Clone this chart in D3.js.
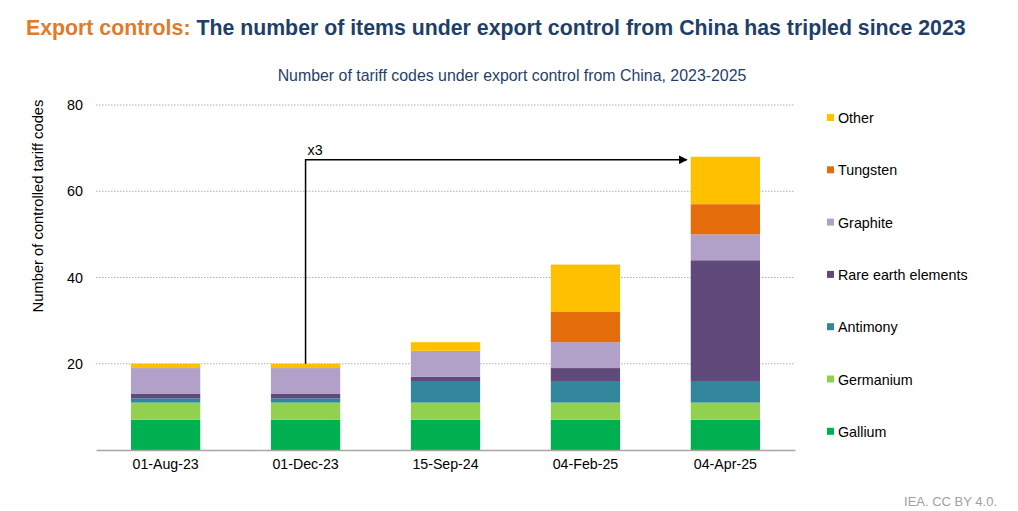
<!DOCTYPE html>
<html>
<head>
<meta charset="utf-8">
<script src="https://cdn.jsdelivr.net/npm/d3@7"></script>
<style>
  body { margin: 0; background: #fff; }
  svg { font-family: "Liberation Sans", Arial, sans-serif; }
</style>
</head>
<body>
<svg width="1018" height="511"></svg>
<script>
// dates on the x axis
const dates = ["01-Aug-23", "01-Dec-23", "15-Sep-24", "04-Feb-25", "04-Apr-25"];

// series, bottom to top
const series = ["Gallium", "Germanium", "Antimony", "Rare earth elements", "Graphite", "Tungsten", "Other"];
const gallium   = [7, 7, 7, 7, 7];
const germanium = [4, 4, 4, 4, 4];
const antimony  = [1, 1, 5, 5, 5];
const rareEarth = [1, 1, 1, 3, 28];
const graphite  = [6, 6, 6, 6, 6];
const tungsten  = [0, 0, 0, 7, 7];
const other     = [1, 1, 2, 11, 11];

const yTicks = [20, 40, 60, 80];
const colors = ["#00b050", "#92d050", "#31869b", "#604a7b", "#b1a0c7", "#e46c0a", "#ffc000"];

const rows = dates.map((d, i) => ({
  date: d,
  "Gallium": gallium[i],
  "Germanium": germanium[i],
  "Antimony": antimony[i],
  "Rare earth elements": rareEarth[i],
  "Graphite": graphite[i],
  "Tungsten": tungsten[i],
  "Other": other[i]
}));

const svg = d3.select("svg");
const margin = { top: 105, right: 223, bottom: 61, left: 96 };
const width = 1018 - margin.left - margin.right;
const height = 511 - margin.top - margin.bottom;

const color = d3.scaleOrdinal().domain(series).range(colors);

const x = d3.scaleBand()
  .domain(dates)
  .range([0, width])
  .paddingInner(0.505)
  .paddingOuter(0.25);

const y = d3.scaleLinear()
  .domain([0, 80])
  .range([height, 0]);

// title
const title = svg.append("text")
  .attr("x", 26)
  .attr("y", 35)
  .attr("font-size", 21.3)
  .attr("font-weight", "bold");
title.append("tspan").attr("fill", "#e07b2a").text("Export controls: ");
title.append("tspan").attr("fill", "#1f3f6b").text("The number of items under export control from China has tripled since 2023");

svg.append("text")
  .attr("x", 512)
  .attr("y", 81)
  .attr("text-anchor", "middle")
  .attr("font-size", 15.9)
  .attr("fill", "#1f3f6b")
  .text("Number of tariff codes under export control from China, 2023-2025");

const g = svg.append("g")
  .attr("transform", `translate(${margin.left},${margin.top})`);

// gridlines
g.append("g")
  .selectAll("line")
  .data(yTicks)
  .join("line")
  .attr("x1", 0)
  .attr("x2", width)
  .attr("y1", d => y(d))
  .attr("y2", d => y(d))
  .attr("stroke", "#b0b0b0")
  .attr("stroke-width", 1)
  .attr("stroke-dasharray", "1.5,1.5");

// y axis labels
const yAxis = g.append("g")
  .call(d3.axisLeft(y).tickValues(yTicks).tickSize(0).tickPadding(13));
yAxis.select(".domain").remove();
yAxis.selectAll("text")
  .attr("font-size", 14.3)
  .attr("font-family", "Liberation Sans, Arial, sans-serif")
  .attr("fill", "#000");

svg.append("text")
  .attr("transform", "translate(43,206) rotate(-90)")
  .attr("text-anchor", "middle")
  .attr("font-size", 14.75)
  .attr("fill", "#000")
  .text("Number of controlled tariff codes");

// stacked bars
const stacked = d3.stack().keys(series)(rows);

g.append("g")
  .selectAll("g")
  .data(stacked)
  .join("g")
  .attr("fill", d => color(d.key))
  .selectAll("rect")
  .data(d => d)
  .join("rect")
  .attr("x", d => x(d.data.date))
  .attr("y", d => y(d[1]))
  .attr("width", x.bandwidth())
  .attr("height", d => y(d[0]) - y(d[1]));

// x axis
const xAxis = g.append("g")
  .attr("transform", `translate(0,${height})`)
  .call(d3.axisBottom(x).tickSize(0).tickPadding(9));
xAxis.select(".domain").attr("stroke", "#a6a6a6").attr("stroke-width", 1.5);
xAxis.selectAll("text")
  .attr("font-size", 14.2)
  .attr("font-family", "Liberation Sans, Arial, sans-serif")
  .attr("fill", "#000");

// x3 annotation arrow
const arrowFrom = { date: "01-Dec-23", value: 20 };
const arrowTo = { date: "04-Apr-25", level: 67.3 };

svg.append("defs").append("marker")
  .attr("id", "arrowhead")
  .attr("viewBox", "0 0 10 10")
  .attr("refX", 9)
  .attr("refY", 5)
  .attr("markerWidth", 6)
  .attr("markerHeight", 6)
  .attr("orient", "auto")
  .append("path")
  .attr("d", "M0,0 L10,5 L0,10 Z")
  .attr("fill", "#000");

const ax = x(arrowFrom.date) + x.bandwidth() / 2;
g.append("path")
  .attr("d", `M${ax},${y(arrowFrom.value)} V${y(arrowTo.level)} H${x(arrowTo.date) - 4}`)
  .attr("fill", "none")
  .attr("stroke", "#000")
  .attr("stroke-width", 1.5)
  .attr("marker-end", "url(#arrowhead)");

g.append("text")
  .attr("x", ax + 2)
  .attr("y", y(arrowTo.level) - 5)
  .attr("font-size", 14.3)
  .attr("fill", "#000")
  .text("x3");

// legend, top entry is the top series
const legend = svg.append("g")
  .attr("transform", "translate(827,118)");

const legendItems = legend.selectAll("g")
  .data(series.slice().reverse())
  .join("g")
  .attr("transform", (d, i) => `translate(0,${i * 52.3})`);

legendItems.append("rect")
  .attr("x", 0)
  .attr("y", -4)
  .attr("width", 7)
  .attr("height", 7)
  .attr("fill", d => color(d));

legendItems.append("text")
  .attr("x", 11)
  .attr("y", 5)
  .attr("font-size", 14.3)
  .attr("fill", "#000")
  .text(d => d);

// source
svg.append("text")
  .attr("x", 997)
  .attr("y", 506)
  .attr("text-anchor", "end")
  .attr("font-size", 13)
  .attr("fill", "#a0a0a0")
  .text("IEA. CC BY 4.0.");
</script>
</body>
</html>
